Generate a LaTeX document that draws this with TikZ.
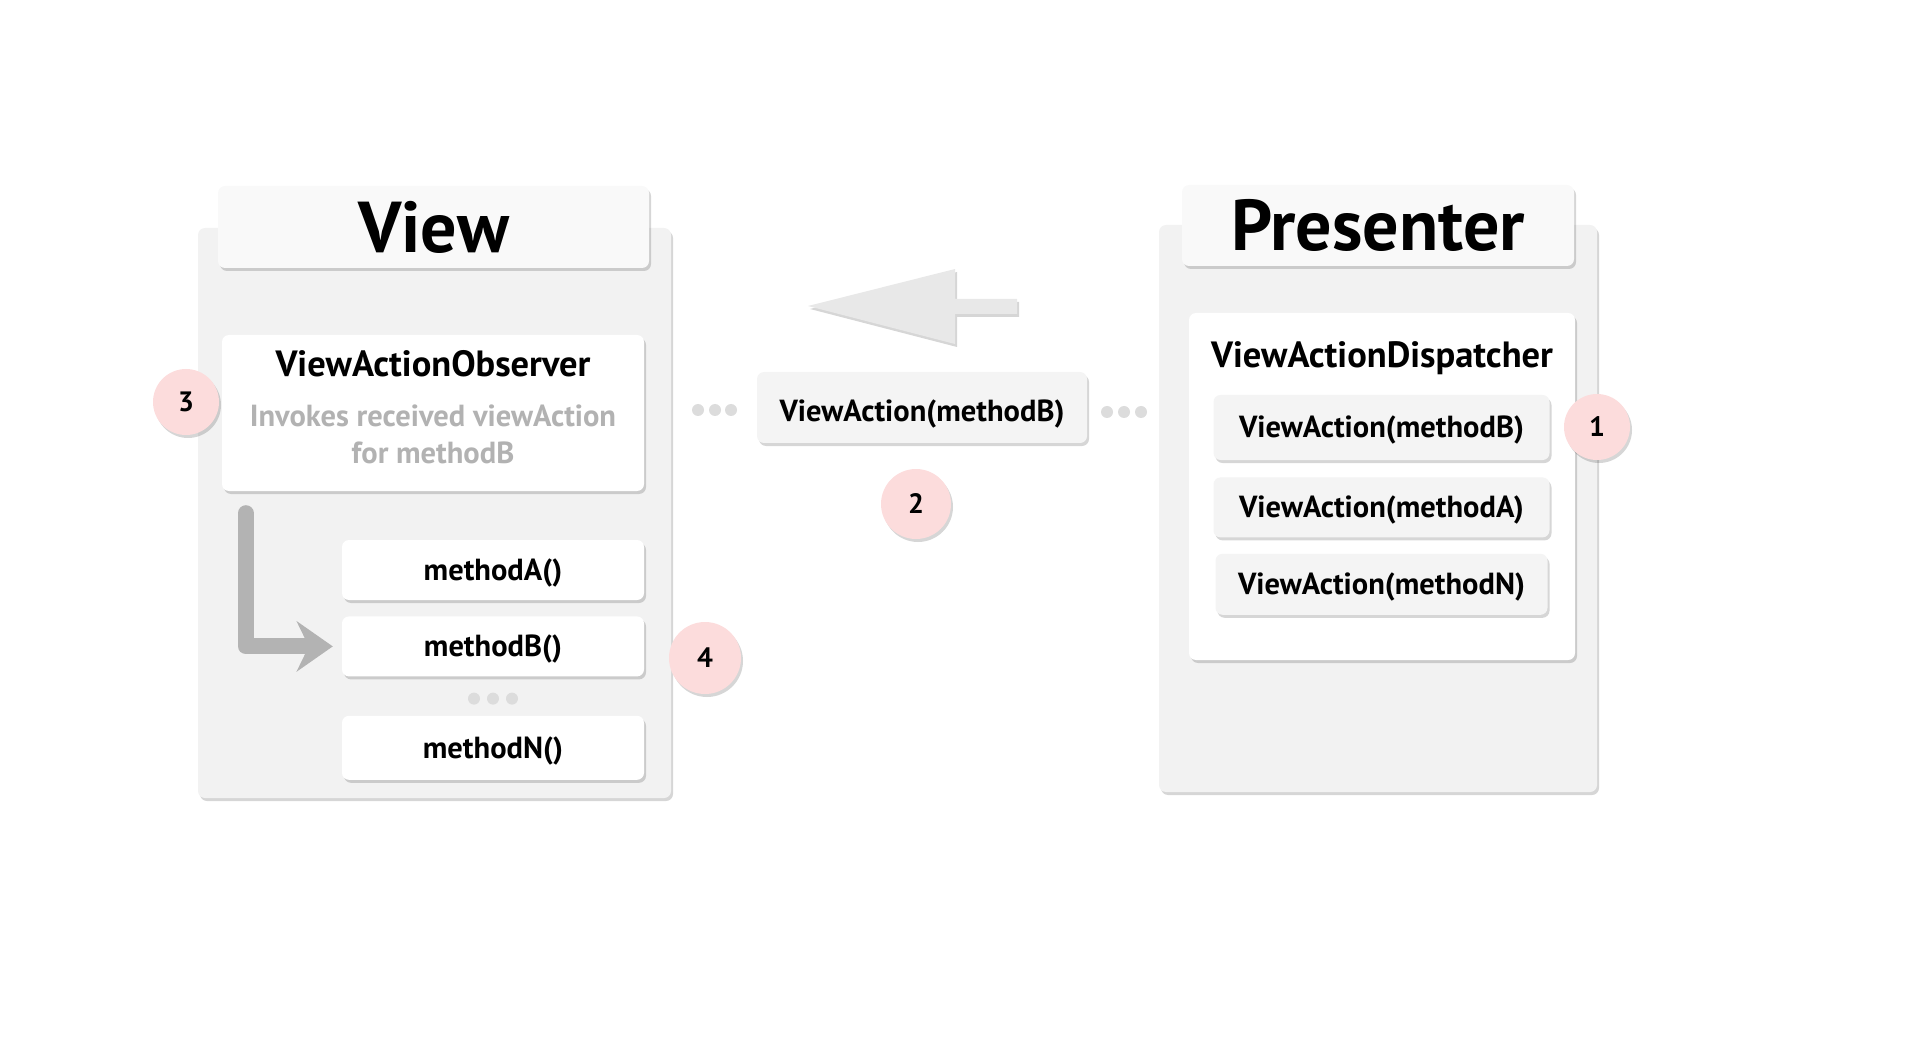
\documentclass[tikz,border=0pt]{standalone}
\usepackage{fontspec}
\setmainfont{PT Sans}
\usetikzlibrary{positioning,shadows,arrows.meta}

\definecolor{panelgray}{HTML}{F2F2F2}
\definecolor{titlegray}{HTML}{F9F9F9}
\definecolor{msggray}{HTML}{F4F4F4}
\definecolor{stepred}{HTML}{FCDCDC}
\definecolor{dotgray}{HTML}{DCDCDC}
\definecolor{flowgray}{HTML}{B3B3B3}
\definecolor{notegray}{HTML}{B2B2B2}
\definecolor{bigarrow}{HTML}{E8E8E8}

\tikzset{
  softshadow/.style={drop shadow={shadow xshift=2pt,shadow yshift=-3pt,fill=black,opacity=.16}},
  panel/.style={fill=panelgray,rounded corners=7pt,softshadow},
  titlebox/.style={fill=titlegray,rounded corners=7pt,softshadow,
    font=\fontsize{72}{74}\selectfont\bfseries},
  innerbox/.style={fill=white,rounded corners=7pt,softshadow},
  methodbox/.style={fill=white,rounded corners=7pt,softshadow,minimum width=302pt,
    minimum height=60pt,text height=21pt,text depth=0pt,
    font=\fontsize{30.5}{32}\selectfont\bfseries},
  actionbox/.style={fill=msggray,rounded corners=7pt,softshadow,minimum width=336pt,
    minimum height=61pt,text height=21pt,text depth=0pt,
    font=\fontsize{30.5}{32}\selectfont\bfseries},
  stepnum/.style={circle,fill=stepred,softshadow,minimum size=66pt,inner sep=0pt,
    font=\fontsize{28}{30}\selectfont\bfseries},
  heading/.style={font=\fontsize{36.5}{38}\selectfont\bfseries},
  note/.style={text=notegray,align=center,font=\fontsize{30.5}{37}\selectfont\bfseries},
  flow/.style={draw=flowgray,line width=16pt,line cap=round,line join=round,
    -{Stealth[length=36pt,width=50pt,inset=12pt]}},
  gapdot/.style={circle,fill=dotgray,minimum size=12pt,inner sep=0pt}
}

\begin{document}
\begin{tikzpicture}[x=1pt,y=-1pt]
\useasboundingbox (0,0) rectangle (1920,1040);

% View side
\node[panel,minimum width=473pt,minimum height=570pt] (viewpanel) at (434.5,513) {};
\node[titlebox,minimum width=431pt,minimum height=82pt] (viewtitle) at (433.5,227) {View};
\node[innerbox,minimum width=422pt,minimum height=156pt] (obs) at (433,413) {};
\node[heading] (obstitle) at ([yshift=-29pt]obs.north) {ViewActionObserver};
\node[note] (obsnote) at ([yshift=-100pt]obs.north) {Invokes received viewAction\\for methodB};
\node[methodbox] (mA) at (493,570) {methodA()};
\node[methodbox,below=16pt of mA] (mB) {methodB()};
\node[methodbox,minimum height=64pt,below=39pt of mB] (mN) {methodN()};
\foreach \dx/\name in {-19/md1,0/md2,19/md3}
  \node[gapdot] (\name) at ([xshift=\dx pt,yshift=-22pt]mB.south) {};
\draw[flow] ([xshift=24pt,yshift=-22pt]obs.south west) |- ([xshift=-9pt]mB.west);

% Presenter side
\node[panel,minimum width=438pt,minimum height=567pt] (prespanel) at (1378,508.5) {};
\node[titlebox,minimum width=392pt,minimum height=81pt] (prestitle) at (1378,225.5) {Presenter};
\node[innerbox,minimum width=386pt,minimum height=347pt] (disp) at (1382,486.5) {};
\node[heading] (disptitle) at ([yshift=-45pt]disp.north) {ViewActionDispatcher};
\node[actionbox,minimum height=65pt] (vaB) at (1381.5,427.5) {ViewAction(methodB)};
\node[actionbox,minimum height=60pt,below=17pt of vaB] (vaA) {ViewAction(methodA)};
\node[actionbox,minimum width=332pt,below=16pt of vaA] (vaN) {ViewAction(methodN)};

% message in transit
\node[actionbox,minimum width=330pt,minimum height=71pt,text height=29pt] (msg) at (922,407.5) {ViewAction(methodB)};
\foreach \x/\name in {698/ld1,715/ld2,731/ld3}
  \node[gapdot] (\name) at (\x,410) {};
\foreach \x/\name in {1107/rd1,1124/rd2,1141/rd3}
  \node[gapdot] (\name) at (\x,412) {};
\fill[bigarrow,softshadow] (808,306) -- (955,269) -- (955,299) -- (1017,299)
  -- (1017,314) -- (955,314) -- (955,344) -- cycle;

% step numbers
\node[stepnum] (s1) at (1597,427) {1};
\node[stepnum,minimum size=70pt] (s2) at (916,504) {2};
\node[stepnum] (s3) at (186,402) {3};
\node[stepnum,minimum size=72pt] (s4) at (705,658) {4};
\end{tikzpicture}
\end{document}
